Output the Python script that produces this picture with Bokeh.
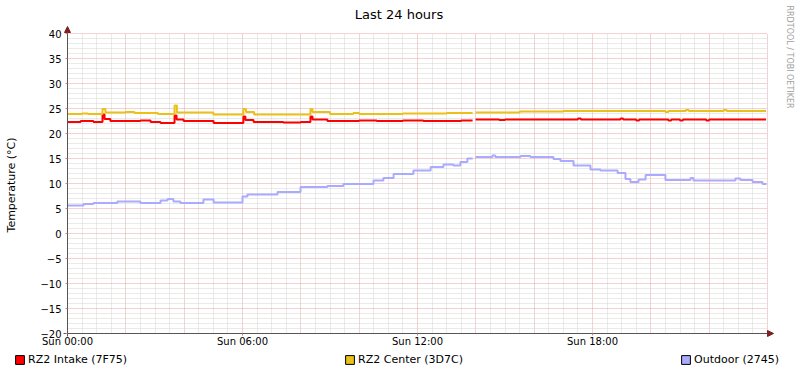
import numpy as np
from bokeh.plotting import figure
from bokeh.models import (FixedTicker, Legend, LegendItem, Arrow, NormalHead,
                          Range1d, Label, Grid)
from bokeh.embed import file_html
from bokeh.resources import INLINE

# ---------------- data ----------------
title_text = "Last 24 hours"
y_label_text = "Temperature (°C)"
credit_text = "RRDTOOL / TOBI OETIKER"

x_tick_hours = [0, 6, 12, 18]
x_tick_labels = ["Sun 00:00", "Sun 06:00", "Sun 12:00", "Sun 18:00"]
y_ticks = [-20, -15, -10, -5, 0, 5, 10, 15, 20, 25, 30, 35, 40]

series_names = ["RZ2 Intake (7F75)", "RZ2 Center (3D7C)", "Outdoor (2745)"]
series_colors = ["#FF0000", "#EAC117", "#AAAAFF"]

nan = float("nan")

intake_hours = [0.0, 0.45, 0.89, 1.2, 1.27, 1.47, 2.5, 2.85, 3.19, 3.67, 3.74, 3.98,
                5.01, 6.03, 6.1, 6.38, 7.4, 8.0, 8.33, 8.4, 8.91, 10.0, 10.6, 11.5,
                12.2, 13.5, 13.89,
                13.99, 14.8, 15.0, 17.5, 17.6, 18.96, 19.05, 19.5, 19.6, 20.6, 20.7,
                21.0, 21.1, 21.9, 22.0, 23.95]
intake_temp = [22.3, 22.5, 22.3, 23.8, 22.9, 22.5, 22.6, 22.3, 22.1, 23.6, 22.8, 22.5,
               22.1, 23.4, 22.7, 22.3, 22.2, 22.3, 23.4, 22.8, 22.5, 22.6, 22.5, 22.6,
               22.5, 22.6, nan,
               22.8, 22.7, 22.8, 23.0, 22.8, 23.0, 22.8, 22.6, 22.8, 22.6, 22.8,
               22.6, 22.8, 22.6, 22.8, 22.8]

center_hours = [0.0, 0.5, 0.7, 1.2, 1.3, 2.0, 2.3, 3.1, 3.67, 3.75, 5.0, 6.03, 6.12,
                6.4, 8.33, 8.4, 9.0, 9.8, 10.0, 11.5, 13.0, 13.89,
                13.99, 15.5, 17.0, 20.5, 20.6, 21.2, 21.3, 22.5, 22.6, 23.95]
center_temp = [23.9, 24.0, 23.9, 24.9, 24.2, 24.3, 24.1, 23.9, 25.6, 24.2, 23.8, 24.9, 24.3,
               23.8, 24.9, 24.3, 23.9, 24.1, 23.9, 24.0, 24.1, nan,
               24.2, 24.4, 24.5, 24.3, 24.5, 24.7, 24.5, 24.7, 24.5, 24.5]

outdoor_hours = [0.0, 0.55, 0.89, 1.71, 2.5, 3.19, 3.43, 3.63, 3.87, 4.66, 5.01, 6.0,
                 6.17, 7.2, 7.99, 8.91, 9.46, 10.49, 10.83, 11.18, 11.86, 12.45,
                 12.89, 13.23, 13.47, 13.71, 13.89,
                 13.99, 14.57, 14.67, 15.53, 15.87, 16.66, 16.9, 17.35, 17.93,
                 18.27, 18.86, 19.13, 19.3, 19.58, 19.82, 20.5, 21.36, 21.46,
                 22.9, 23.07, 23.49, 23.83, 23.95]
outdoor_temp = [5.6, 5.9, 6.1, 6.4, 6.1, 6.6, 6.9, 6.4, 6.1, 6.8, 6.2, 7.4,
                7.8, 8.3, 9.3, 9.5, 9.9, 10.6, 11.1, 11.9, 12.6, 13.3,
                13.8, 13.6, 14.3, 15.0, nan,
                15.3, 15.6, 15.3, 15.5, 15.3, 14.9, 14.5, 13.6, 12.8,
                12.6, 12.1, 10.9, 10.3, 10.8, 11.7, 10.7, 11.1, 10.6,
                11.0, 10.7, 10.3, 9.9, 9.8]

# ---------------- style / layout ----------------
FONT = "DejaVu Sans"
axis_color = "#555555"
arrow_color = "#7F1F1F"
major_grid_color = "#E4A4A4"
minor_grid_color = "#D4D4D4"

W, H = 797, 373
PL, PT, PW, PH = 67, 33, 700, 300      # plot area in canvas pixels
X0, X1 = 0, 24
Y0, Y1 = -20, 40
px_per_x = PW / (X1 - X0)
px_per_y = PH / (Y1 - Y0)
x_lo = X0 - PL / px_per_x
x_hi = X1 + (W - PL - PW) / px_per_x
y_hi = Y1 + PT / px_per_y
y_lo = Y0 - (H - PT - PH) / px_per_y


def steps(h, v):
    xs, ys = [], []
    for i in range(len(h)):
        if i > 0:
            xs.append(h[i])
            ys.append(v[i - 1])
        xs.append(h[i])
        ys.append(v[i])
    return xs, ys


p = figure(width=W, height=H, title=None,
           x_range=Range1d(x_lo, x_hi), y_range=Range1d(y_lo, y_hi),
           output_backend="svg", toolbar_location=None,
           min_border=0, min_border_left=0, min_border_right=0,
           min_border_top=0, min_border_bottom=0)
p.outline_line_color = None
p.background_fill_color = "white"
p.border_fill_color = "white"

# grids
xg_major = list(range(X0, X1 + 1, 2))
xg_minor = [i * 0.5 for i in range(2 * X1 + 1) if i % 4]
yg_minor = [v for v in range(Y0, Y1 + 1) if v % 5]
has_cross = "cross_bounds" in Grid.properties()
if has_cross:
    p.xgrid.ticker = FixedTicker(ticks=xg_major, minor_ticks=xg_minor)
    p.ygrid.ticker = FixedTicker(ticks=y_ticks, minor_ticks=yg_minor)
    for g in (p.xgrid[0], p.ygrid[0]):
        g.grid_line_color = major_grid_color
        g.grid_line_dash = "1 1"
        g.minor_grid_line_color = minor_grid_color
        g.minor_grid_line_dash = "1 1"
    p.xgrid[0].cross_bounds = (Y0, Y1)
    p.ygrid[0].cross_bounds = (X0, X1)
else:
    p.xgrid.visible = False
    p.ygrid.visible = False
    p.segment(x0=xg_minor, y0=Y0, x1=xg_minor, y1=Y1, line_color=minor_grid_color,
              line_dash="1 1", level="underlay")
    p.segment(x0=X0, y0=yg_minor, x1=X1, y1=yg_minor, line_color=minor_grid_color,
              line_dash="1 1", level="underlay")
    p.segment(x0=xg_major, y0=Y0, x1=xg_major, y1=Y1, line_color=major_grid_color,
              line_dash="1 1", level="underlay")
    p.segment(x0=X0, y0=y_ticks, x1=X1, y1=y_ticks, line_color=major_grid_color,
              line_dash="1 1", level="underlay")

# axes placed inside the canvas at the plot-area edges
p.xaxis.fixed_location = Y0
p.yaxis.fixed_location = X0
p.xaxis.ticker = FixedTicker(ticks=x_tick_hours)
p.xaxis.major_label_overrides = {h: l for h, l in zip(x_tick_hours, x_tick_labels)}
p.yaxis.ticker = FixedTicker(ticks=y_ticks)
p.xaxis.bounds = (X0 - 4 / px_per_x, X1)
p.yaxis.bounds = (Y0 - 3 / px_per_y, Y1)
for ax in (p.xaxis[0], p.yaxis[0]):
    ax.axis_line_color = axis_color
    ax.major_tick_out = 2
    ax.major_tick_in = 0
    ax.minor_tick_out = 0
    ax.minor_tick_in = 0
    ax.major_tick_line_color = "#D08080"
    ax.major_label_text_font = FONT
    ax.major_label_text_font_size = "10px"
    ax.major_label_text_color = "#000000"
p.yaxis.major_label_standoff = 4
p.xaxis.major_label_standoff = 0
p.yaxis.axis_label = y_label_text
p.yaxis.axis_label_standoff = 19
p.yaxis.axis_label_text_font = FONT
p.yaxis.axis_label_text_font_size = "11px"
p.yaxis.axis_label_text_font_style = "normal"
p.yaxis.axis_label_text_color = "#000000"

# axis arrows
p.add_layout(Arrow(end=NormalHead(size=6, fill_color=arrow_color, line_color=arrow_color),
                   x_start=X0, y_start=Y1, x_end=X0, y_end=Y1 + 7 / px_per_y,
                   line_color=axis_color, line_width=1))
p.add_layout(Arrow(end=NormalHead(size=6, fill_color=arrow_color, line_color=arrow_color),
                   x_start=X1, y_start=Y0, x_end=X1 + 6 / px_per_x, y_end=Y0,
                   line_color=axis_color, line_width=1))

# series
all_series = [(intake_hours, intake_temp), (center_hours, center_temp),
              (outdoor_hours, outdoor_temp)]
legend_items = []
for (hh, tt), name, col in zip(all_series, series_names, series_colors):
    xs, ys = steps(hh, tt)
    p.line(xs, ys, line_width=2, line_color=col)
    # legend swatch renderer (one row of NaN: draws nothing on the plot)
    r = p.quad(left=[nan], right=[nan], top=[nan], bottom=[nan], fill_color=col,
               line_color="#000000", line_width=1)
    legend_items.append(LegendItem(label=name, renderers=[r]))

legend = Legend(items=legend_items, orientation="horizontal", location=(14, 7),
                spacing=217, glyph_width=11, glyph_height=11, label_standoff=3,
                label_height=12, label_width=10, padding=0, margin=0,
                border_line_color=None, background_fill_alpha=0,
                label_text_font=FONT, label_text_font_size="11px",
                label_text_color="#000000")
p.add_layout(legend, "center")

# texts (screen units: pixels from the canvas' bottom-left)
p.add_layout(Label(x=398.5, y=H - 14, x_units="screen", y_units="screen",
                   text=title_text, text_align="center", text_baseline="alphabetic",
                   text_font=FONT, text_font_size="13px", text_color="#000000"))
p.add_layout(Label(x=788.5, y=H - 5, x_units="screen", y_units="screen",
                   text=credit_text, angle=-np.pi / 2, text_align="left",
                   text_baseline="middle", text_font=FONT, text_font_size="8px",
                   text_color="#A0A0A0"))

open("out.html", "w").write(file_html(p, INLINE))
